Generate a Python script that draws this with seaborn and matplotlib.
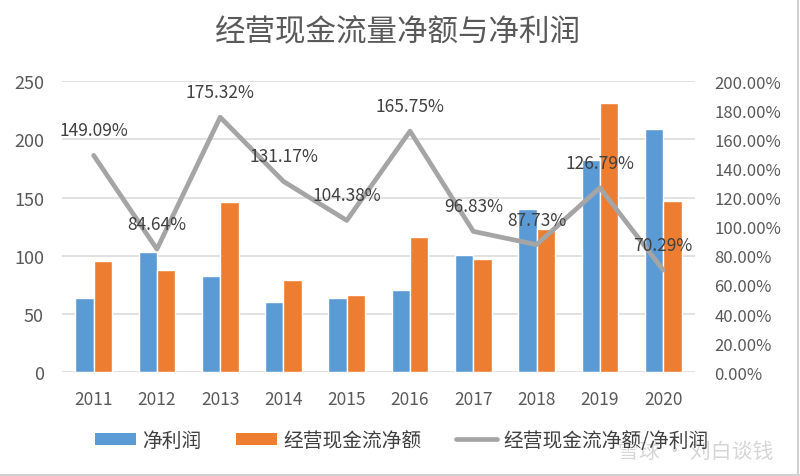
import numpy as np
import pandas as pd
import matplotlib
matplotlib.use("Agg")
import matplotlib.pyplot as plt
import seaborn as sns
from matplotlib.patches import Patch
from matplotlib.lines import Line2D

years = ["2011", "2012", "2013", "2014", "2015", "2016", "2017", "2018", "2019", "2020"]
net_profit = [63.8, 103.0, 83.0, 60.4, 63.8, 70.4, 100.8, 140.3, 182.4, 209.0]
op_cash = [95.3, 87.6, 146.0, 79.3, 66.4, 116.5, 97.3, 122.8, 231.0, 146.9]
ratio_pct = [149.09, 84.64, 175.32, 131.17, 104.38, 165.75, 96.83, 87.73, 126.79, 70.29]

s_profit = "净利润"
s_cash = "经营现金流净额"
s_ratio = "经营现金流净额/净利润"
title = "经营现金流量净额与净利润"
left_ticks = [0, 50, 100, 150, 200, 250]
right_ticks = [0, 20, 40, 60, 80, 100, 120, 140, 160, 180, 200]

sns.set_theme(style="white")
plt.rcParams["font.family"] = ["Noto Sans CJK SC", "DejaVu Sans"]

c_blue = "#5B9BD5"
c_orange = "#ED7D31"
c_gray = "#A5A5A5"
txt = "#404040"
tick_c = "#595959"

df = pd.DataFrame({
    "year": years * 2,
    "value": net_profit + op_cash,
    "series": [s_profit] * len(years) + [s_cash] * len(years),
})

fig = plt.figure(figsize=(8, 4.77), dpi=100)
ax = fig.add_axes([0.0775, 0.2174, 0.791, 0.6101])

sns.barplot(data=df, x="year", y="value", hue="series", order=years,
            hue_order=[s_profit, s_cash], palette=[c_blue, c_orange],
            width=0.58, gap=0, saturation=1, ax=ax, legend=False, zorder=2)

ax.set_ylim(0, 250)
ax.set_yticks(left_ticks)
ax.set_xlim(-0.5, len(years) - 0.5)
ax.yaxis.grid(True, color="#D9D9D9", linewidth=1.1, zorder=0)
ax.set_axisbelow(True)
for s in ax.spines.values():
    s.set_visible(False)
ax.set_xlabel("")
ax.set_ylabel("")
ax.tick_params(axis="y", length=0, pad=13, labelsize=13, labelcolor=tick_c)
ax.tick_params(axis="x", length=0, pad=13, labelsize=12.5, labelcolor=tick_c)

ax2 = ax.twinx()
sns.lineplot(x=np.arange(len(years)), y=ratio_pct, ax=ax2, color=c_gray,
             linewidth=3.4, zorder=3)
ax2.set_ylim(0, 200)
ax2.set_yticks(right_ticks)
ax2.set_yticklabels([f"{v:.2f}%" for v in right_ticks])
ax2.set_xlim(-0.5, len(years) - 0.5)
for s in ax2.spines.values():
    s.set_visible(False)
ax2.tick_params(axis="y", length=0, pad=14, labelsize=12, labelcolor=tick_c)
ax2.set_ylabel("")
ax2.grid(False)

for i, v in enumerate(ratio_pct):
    ax2.annotate(f"{v:.2f}%", (i, v), xytext=(0, 18), textcoords="offset points",
                 ha="center", va="center", fontsize=12.5, color=txt, zorder=4)

fig.text(0.498, 0.932, title, ha="center", va="center", fontsize=22, color="#595959")

handles = [Patch(facecolor=c_blue, edgecolor="none"),
           Patch(facecolor=c_orange, edgecolor="none"),
           Line2D([0], [0], color=c_gray, linewidth=3.4)]
fig.legend(handles, [s_profit, s_cash, s_ratio], loc="center",
           bbox_to_anchor=(0.502, 0.075), ncol=3, frameon=False, fontsize=14.2,
           handlelength=2.1, handleheight=0.6, columnspacing=1.75,
           handletextpad=0.3, labelcolor=txt)

fig.text(0.87, 0.052, "雪球 · 刘白谈钱", ha="center", va="center",
         fontsize=15, color="#cfcfcf", alpha=0.85)

fig.add_artist(Line2D([0.9975, 0.9975], [0, 1], transform=fig.transFigure,
                      color="#D0D0D0", linewidth=1.5))
fig.add_artist(Line2D([0, 1], [0.003, 0.003], transform=fig.transFigure,
                      color="#D0D0D0", linewidth=1.5))

fig.savefig("out.png", dpi=100, facecolor="white")
